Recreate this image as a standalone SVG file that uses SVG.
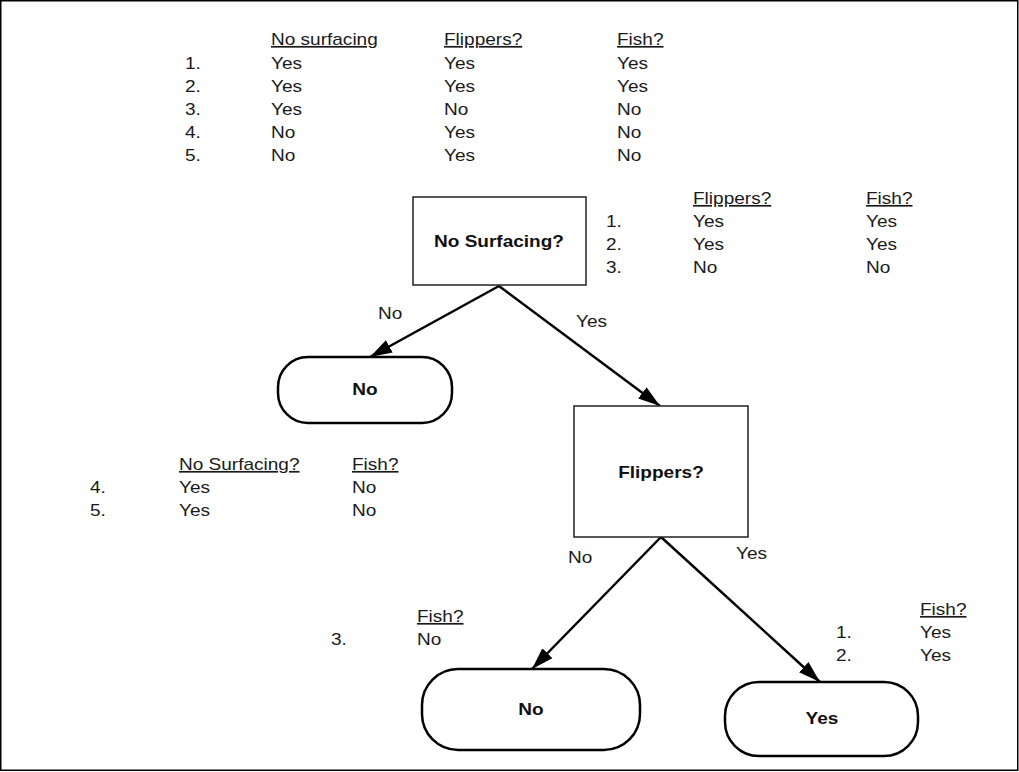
<svg xmlns="http://www.w3.org/2000/svg" width="1019" height="772" viewBox="0 0 1019 772">
<style>
text{font-family:"Liberation Sans",Arial,sans-serif;font-size:17px;fill:#1a1a1a}
.b{font-weight:bold;text-anchor:middle;fill:#111}
.u{text-decoration:underline}
.box{fill:#fff;stroke:#222;stroke-width:1.5}
.leaf{fill:#fff;stroke:#000;stroke-width:2.5}
.edge{fill:none;stroke:#000;stroke-width:2.5}
</style>
<defs>
<marker id="ah" markerUnits="userSpaceOnUse" markerWidth="24" markerHeight="16" refX="22" refY="8" orient="auto">
<path d="M0,1 L22,8 L0,15 z" fill="#000"/>
</marker>
</defs>
<rect x="0.75" y="0.75" width="1017" height="769.5" fill="#fff" stroke="#000" stroke-width="1.5"/>

<g id="connectors">
<line class="edge" x1="499" y1="286" x2="370" y2="357" marker-end="url(#ah)"/>
<line class="edge" x1="499" y1="286" x2="660" y2="406" marker-end="url(#ah)"/>
<line class="edge" x1="661" y1="537" x2="532" y2="669" marker-end="url(#ah)"/>
<line class="edge" x1="661" y1="537" x2="820" y2="682" marker-end="url(#ah)"/>
<g transform="scale(1.12,1)">
<text x="337.5" y="319">No</text>
<text x="514.29" y="327">Yes</text>
<text x="507.14" y="563">No</text>
<text x="657.14" y="559">Yes</text>
</g>
</g>

<g id="node-root">
<rect class="box" x="413" y="197" width="173" height="88"/>
<text class="b" transform="scale(1.12,1)" x="445.54" y="247">No Surfacing?</text>
</g>
<g id="node-leaf-no1">
<rect class="leaf" x="278" y="357" width="174" height="66" rx="30"/>
<text class="b" transform="scale(1.12,1)" x="325.89" y="395">No</text>
</g>
<g id="node-flippers">
<rect class="box" x="574" y="406" width="174" height="131"/>
<text class="b" transform="scale(1.12,1)" x="590.18" y="478">Flippers?</text>
</g>
<g id="node-leaf-no2">
<rect class="leaf" x="422" y="669" width="218" height="81" rx="36"/>
<text class="b" transform="scale(1.12,1)" x="474.11" y="715">No</text>
</g>
<g id="node-leaf-yes">
<rect class="leaf" x="725" y="682" width="193" height="74" rx="34"/>
<text class="b" transform="scale(1.12,1)" x="733.93" y="724">Yes</text>
</g>

<g id="table-all" transform="scale(1.12,1)">
<text class="u" x="241.96" y="45">No surfacing</text>
<text class="u" x="396.43" y="45">Flippers?</text>
<text class="u" x="550.89" y="45">Fish?</text>
<text x="165.18" y="69">1.</text><text x="241.96" y="69">Yes</text><text x="396.43" y="69">Yes</text><text x="550.89" y="69">Yes</text>
<text x="165.18" y="92">2.</text><text x="241.96" y="92">Yes</text><text x="396.43" y="92">Yes</text><text x="550.89" y="92">Yes</text>
<text x="165.18" y="115">3.</text><text x="241.96" y="115">Yes</text><text x="396.43" y="115">No</text><text x="550.89" y="115">No</text>
<text x="165.18" y="138">4.</text><text x="241.96" y="138">No</text><text x="396.43" y="138">Yes</text><text x="550.89" y="138">No</text>
<text x="165.18" y="161">5.</text><text x="241.96" y="161">No</text><text x="396.43" y="161">Yes</text><text x="550.89" y="161">No</text>
</g>

<g id="table-yes-surfacing" transform="scale(1.12,1)">
<text class="u" x="618.75" y="204">Flippers?</text>
<text class="u" x="773.21" y="204">Fish?</text>
<text x="541.07" y="227">1.</text><text x="618.75" y="227">Yes</text><text x="773.21" y="227">Yes</text>
<text x="541.07" y="250">2.</text><text x="618.75" y="250">Yes</text><text x="773.21" y="250">Yes</text>
<text x="541.07" y="273">3.</text><text x="618.75" y="273">No</text><text x="773.21" y="273">No</text>
</g>

<g id="table-no-surfacing" transform="scale(1.12,1)">
<text class="u" x="159.82" y="470">No Surfacing?</text>
<text class="u" x="314.29" y="470">Fish?</text>
<text x="80.36" y="493">4.</text><text x="159.82" y="493">Yes</text><text x="314.29" y="493">No</text>
<text x="80.36" y="516">5.</text><text x="159.82" y="516">Yes</text><text x="314.29" y="516">No</text>
</g>

<g id="table-no-flippers" transform="scale(1.12,1)">
<text class="u" x="372.32" y="622">Fish?</text>
<text x="295.54" y="645">3.</text><text x="372.32" y="645">No</text>
</g>

<g id="table-yes-flippers" transform="scale(1.12,1)">
<text class="u" x="821.43" y="615">Fish?</text>
<text x="746.43" y="638">1.</text><text x="821.43" y="638">Yes</text>
<text x="746.43" y="661">2.</text><text x="821.43" y="661">Yes</text>
</g>
</svg>
